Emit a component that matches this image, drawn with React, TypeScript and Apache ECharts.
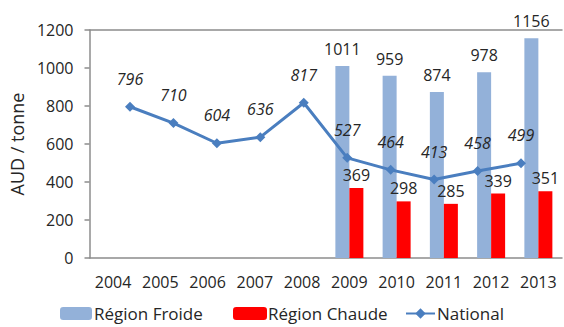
import React, { useEffect, useRef } from "react";
import * as echarts from "echarts";

const years = ["2004", "2005", "2006", "2007", "2008", "2009", "2010", "2011", "2012", "2013"];
const froide = [null, null, null, null, null, 1011, 959, 874, 978, 1156];
const chaude = [null, null, null, null, null, 369, 298, 285, 339, 351];
const national = [796, 710, 604, 636, 817, 527, 464, 413, 458, 499];

const FONT = "'Open Sans', sans-serif";
const AXIS_GRAY = "#8c8c8c";
const TEXT = "#262626";

export default function App() {
  const ref = useRef<HTMLDivElement>(null);

  useEffect(() => {
    if (!ref.current) return;
    const chart = echarts.init(ref.current, null, { renderer: "svg" });
    const gridBase = { top: 30, bottom: 69 };
    const legendText = { fontSize: 17, color: TEXT, fontFamily: FONT };
    const legendBase = { top: 305, padding: 0, itemHeight: 13, itemGap: 4 };
    chart.setOption({
      animation: false,
      textStyle: { fontFamily: FONT },
      grid: [
        { ...gridBase, left: 87, right: 2 },
        { ...gridBase, left: 130, right: 43 },
      ],
      legend: [
        {
          ...legendBase,
          data: ["Région Froide"],
          left: 60,
          itemWidth: 32,
          textStyle: { ...legendText, padding: [0, 0, 0, -3] },
        },
        {
          ...legendBase,
          data: ["Région Chaude"],
          left: 233,
          itemWidth: 34,
          textStyle: { ...legendText, padding: [0, 0, 0, -4] },
        },
        {
          ...legendBase,
          data: ["National"],
          left: 405,
          itemWidth: 29,
          textStyle: { ...legendText, padding: [0, 0, 0, -3] },
        },
      ],
      xAxis: [
        {
          type: "category",
          gridIndex: 0,
          data: years,
          axisLine: { lineStyle: { color: AXIS_GRAY, width: 1.5 } },
          axisTick: { length: 6, lineStyle: { color: AXIS_GRAY, width: 1.5 } },
          axisLabel: { fontSize: 16, color: TEXT, margin: 16, fontFamily: FONT, interval: 0 },
        },
        {
          type: "category",
          gridIndex: 0,
          position: "top",
          data: years,
          axisLine: { lineStyle: { color: AXIS_GRAY, width: 1.5 } },
          axisTick: { show: false },
          axisLabel: { show: false },
        },
        {
          type: "category",
          gridIndex: 1,
          data: years,
          boundaryGap: false,
          show: false,
        },
      ],
      yAxis: [
        {
          type: "value",
          gridIndex: 0,
          min: 0,
          max: 1200,
          interval: 200,
          name: "AUD / tonne",
          nameLocation: "middle",
          nameRotate: 90,
          nameGap: 60,
          nameTextStyle: { fontSize: 18, color: TEXT, fontFamily: FONT },
          axisLine: { show: true, lineStyle: { color: AXIS_GRAY, width: 1.5 } },
          axisTick: { show: true, length: 5, lineStyle: { color: AXIS_GRAY, width: 1.5 } },
          axisLabel: {
            fontSize: 16,
            color: TEXT,
            margin: 16,
            fontFamily: FONT,
            formatter: (v: number) => String(v),
          },
          splitLine: { show: false },
        },
        {
          type: "value",
          gridIndex: 1,
          min: 0,
          max: 1200,
          show: false,
          splitLine: { show: false },
        },
      ],
      series: [
        {
          name: "Région Froide",
          type: "bar",
          xAxisIndex: 0,
          yAxisIndex: 0,
          data: froide,
          barWidth: 14,
          barGap: "0%",
          itemStyle: { color: "#93b1d9" },
          label: {
            show: true,
            position: "top",
            distance: 9,
            fontSize: 16,
            color: TEXT,
            fontFamily: FONT,
          },
        },
        {
          name: "Région Chaude",
          type: "bar",
          xAxisIndex: 0,
          yAxisIndex: 0,
          data: chaude,
          barWidth: 14,
          barGap: "0%",
          itemStyle: { color: "#ff0000" },
          label: {
            show: true,
            position: "top",
            distance: 5,
            fontSize: 16,
            color: TEXT,
            fontFamily: FONT,
          },
        },
        {
          name: "National",
          type: "line",
          xAxisIndex: 2,
          yAxisIndex: 1,
          data: national,
          symbol: "diamond",
          symbolSize: 10,
          lineStyle: { color: "#4a7ebf", width: 3 },
          itemStyle: { color: "#4a7ebf" },
          label: {
            show: true,
            position: "top",
            distance: 15,
            fontSize: 16,
            fontStyle: "italic",
            color: TEXT,
            fontFamily: FONT,
          },
        },
      ],
    });
    return () => chart.dispose();
  }, []);

  return <div ref={ref} style={{ width: 564, height: 327, position: "absolute", left: 0, top: 0 }} />;
}
